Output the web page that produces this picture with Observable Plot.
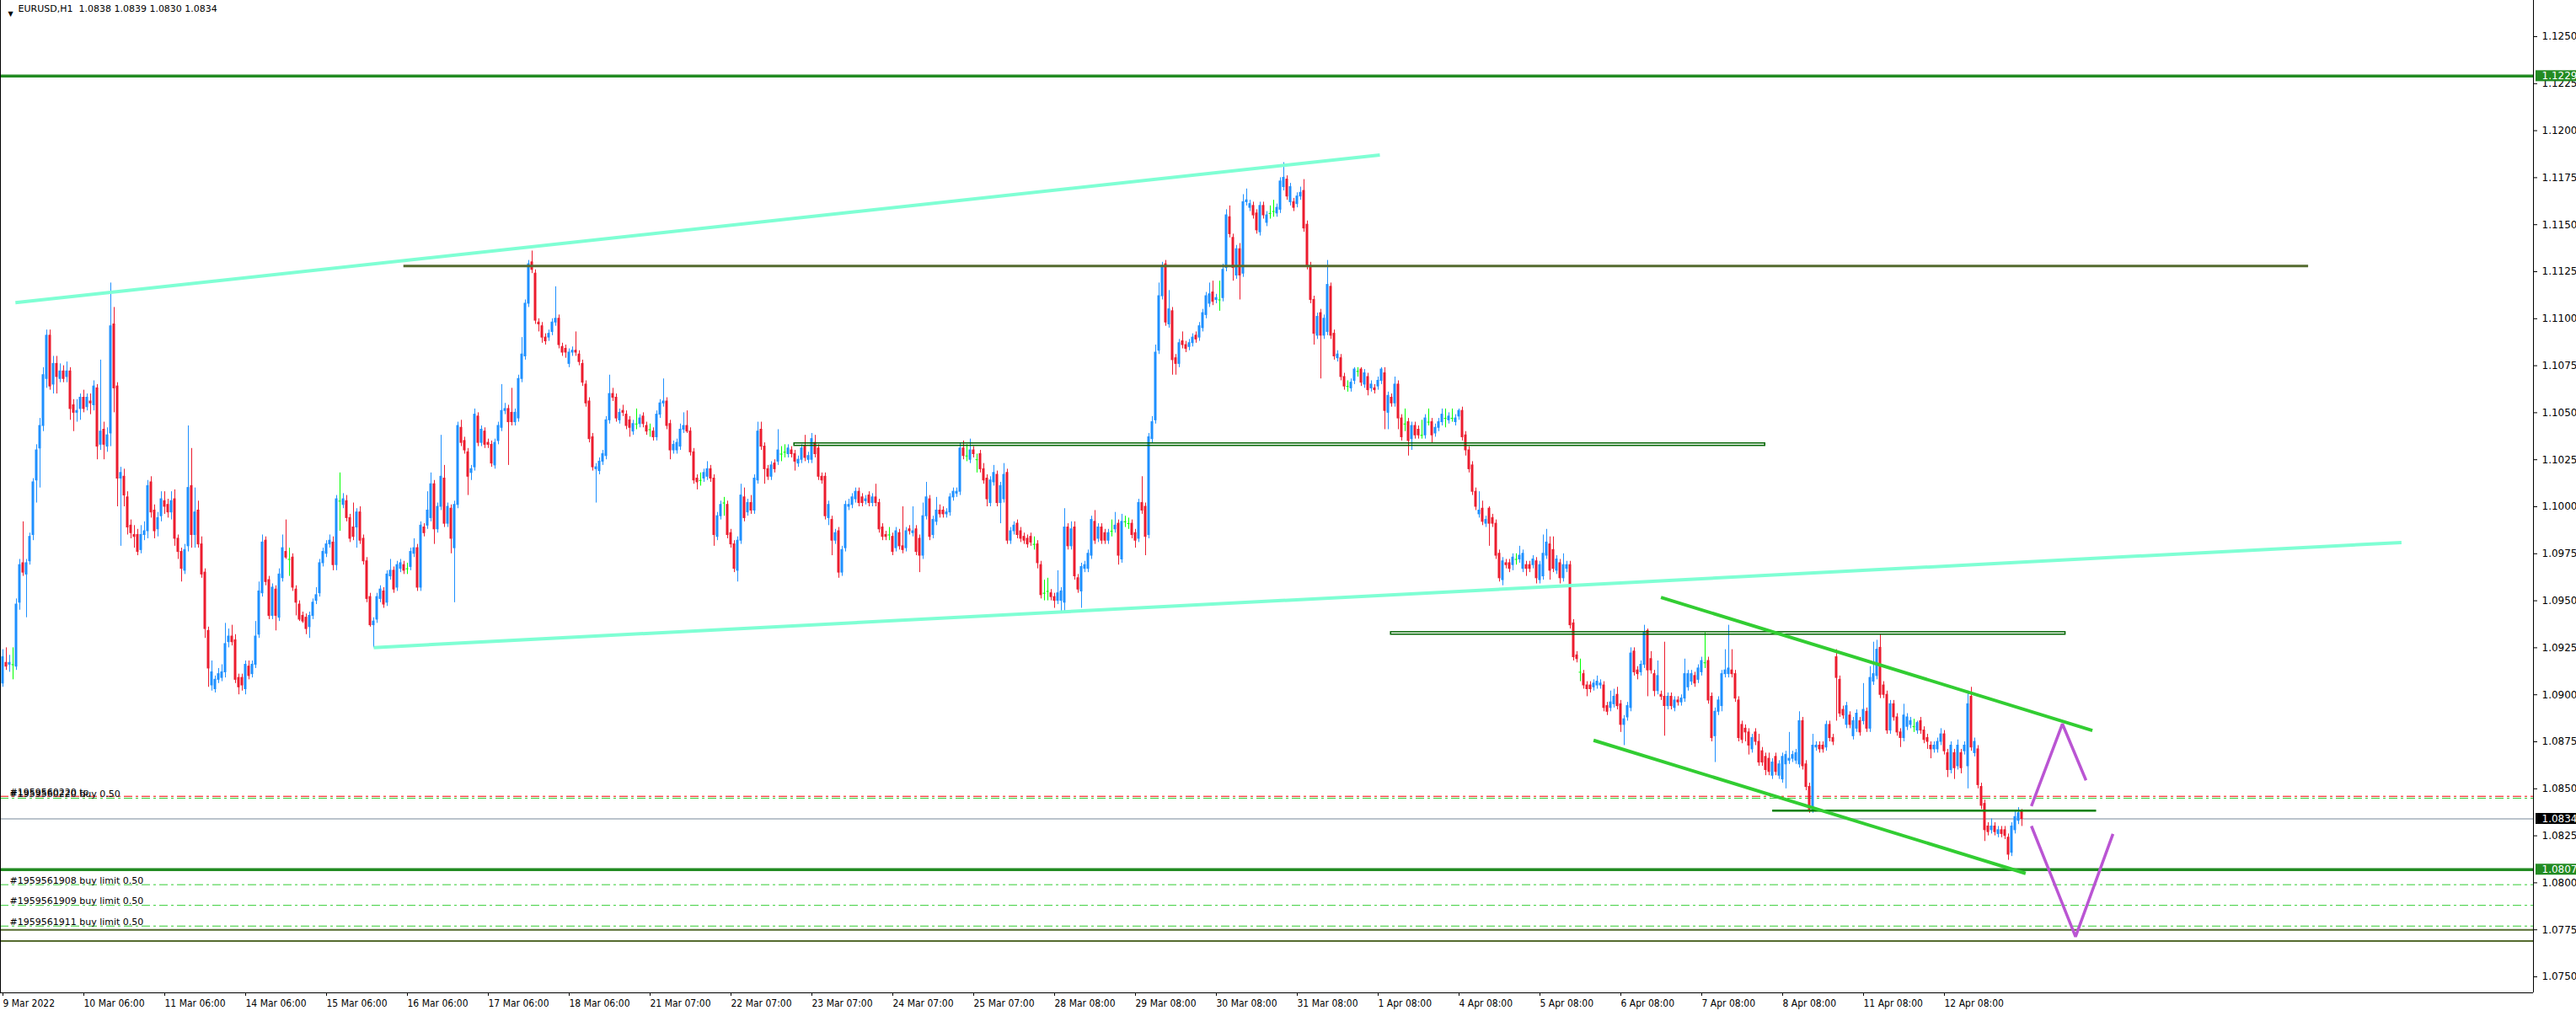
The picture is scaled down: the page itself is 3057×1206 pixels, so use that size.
<!DOCTYPE html>
<html>
<head>
<meta charset="utf-8">
<script src="https://cdn.jsdelivr.net/npm/d3@7"></script>
<script src="https://cdn.jsdelivr.net/npm/@observablehq/plot@0.6"></script>
<style>
html, body { margin: 0; padding: 0; background: #ffffff; }
#chart svg { display: block; }
[aria-label="x-axis tick label"] { font-family: "DejaVu Sans Condensed", "DejaVu Sans", sans-serif; font-stretch: condensed; }
</style>
</head>
<body>
<div id="chart"></div>
<script>
// ---------- DATA (prices as pips above 1.0000, i.e. price = 1 + v/10000) ----------
const symbolHeader = "EURUSD,H1  1.0838 1.0839 1.0830 1.0834";

const opens = [
906,917,916,916,915,949,970,964,971,985,1014,1031,1043,1068,1091,1065,1076,1068,1072,1069,
1072,1054,1050,1052,1058,1053,1056,1054,1063,1033,1041,1032,1039,1097,1064,1015,1016,1005,990,985,
985,977,985,987,1013,998,988,995,1003,1001,997,1004,983,976,966,979,1011,985,998,980,
965,934,905,903,908,909,912,928,931,929,909,909,903,915,911,916,932,954,982,961,
942,956,941,962,976,972,973,956,948,942,941,936,942,950,954,970,975,980,981,969,
1003,1001,1003,994,989,989,997,983,971,952,937,940,951,955,949,963,966,957,967,969,
967,968,975,978,957,989,990,994,1012,988,1000,1015,991,999,978,1001,1042,1035,1029,1018,
1021,1048,1034,1040,1034,1033,1022,1035,1042,1051,1052,1050,1045,1047,1068,1080,1108,1130,1124,1098,
1096,1090,1090,1093,1098,1100,1085,1084,1076,1082,1083,1081,1076,1065,1056,1037,1020,1019,1024,1027,
1046,1060,1058,1046,1051,1049,1046,1040,1044,1044,1048,1043,1041,1040,1037,1049,1055,1056,1044,1030,
1030,1032,1041,1043,1040,1029,1015,1014,1015,1016,1020,1015,984,995,1002,1001,986,980,966,982,
1005,997,1002,998,1014,1041,1032,1020,1016,1023,1024,1028,1029,1028,1030,1028,1023,1025,1032,1025,
1025,1034,1031,1016,1016,994,993,982,987,965,978,1000,1001,1004,1008,1005,1003,1006,1002,1005,
1002,989,985,985,984,978,986,979,978,988,986,988,983,974,995,1004,985,992,998,998,
996,997,1005,1007,1008,1031,1027,1025,1030,1025,1028,1020,1015,1002,1013,1017,1002,1004,1018,982,
987,991,987,984,983,984,980,980,969,954,955,954,952,950,950,949,989,979,989,962,
955,967,967,974,992,983,989,986,982,987,988,991,972,992,991,991,986,983,1002,1000,
985,1036,1046,1083,1112,1129,1097,1104,1079,1076,1088,1086,1085,1087,1091,1090,1095,1102,1108,1114,
1110,1110,1111,1127,1154,1143,1123,1137,1124,1162,1159,1160,1156,1146,1160,1151,1156,1157,1156,1158,
1170,1174,1162,1162,1161,1165,1168,1150,1128,1110,1091,1103,1091,1093,1117,1092,1079,1079,1069,1064,
1063,1067,1072,1073,1065,1069,1063,1063,1064,1067,1071,1050,1058,1055,1065,1047,1044,1045,1036,1043,
1041,1038,1038,1045,1045,1039,1042,1045,1047,1046,1047,1045,1048,1051,1038,1030,1022,1008,996,999,
991,999,994,991,975,961,970,970,969,972,972,967,969,969,969,971,961,963,974,980,
977,966,970,962,967,969,938,921,912,911,905,905,904,905,905,905,894,893,895,900,
895,884,888,893,923,913,912,916,934,919,911,902,900,899,894,899,893,897,896,898,
904,907,910,908,912,917,918,899,878,891,894,911,911,913,911,897,884,882,880,871,
880,875,870,867,866,857,867,857,855,863,865,866,865,863,886,863,851,839,872,873,
873,872,884,877,920,908,892,884,889,878,882,886,886,891,882,907,910,925,905,900,
881,895,888,880,877,883,884,883,881,886,881,877,873,871,871,875,879,869,860,869,
862,869,870,862,899,869,871,851,842,830,828,830,826,828,828,824,816,828,833,838
];
const highs = [
924,925,921,925,951,972,992,972,986,1015,1033,1047,1074,1094,1094,1080,1080,1076,1075,1077,
1074,1057,1057,1060,1062,1060,1060,1067,1065,1078,1045,1042,1119,1106,1066,1021,1020,1008,993,990,
988,990,992,1014,1016,1001,997,1008,1008,1004,1008,1009,985,978,980,1043,1031,1010,1003,984,
967,936,918,910,914,916,938,935,937,932,911,911,918,918,918,939,960,985,984,963,
959,958,967,985,993,978,975,958,950,944,943,944,951,957,972,978,982,985,984,1006,
1018,1007,1006,996,1002,999,1000,985,973,954,941,954,958,957,966,972,968,971,972,971,
970,978,983,980,992,991,1008,1018,1014,1002,1038,1022,1002,1001,1003,1045,1046,1037,1031,1022,
1052,1050,1043,1042,1036,1035,1036,1045,1065,1055,1054,1063,1052,1070,1090,1110,1131,1136,1126,1100,
1098,1092,1094,1100,1117,1102,1087,1086,1084,1085,1093,1083,1078,1067,1058,1039,1023,1026,1030,1048,
1070,1063,1060,1052,1054,1051,1048,1046,1052,1049,1050,1045,1044,1042,1051,1057,1068,1058,1046,1035,
1036,1044,1050,1051,1042,1031,1017,1018,1020,1024,1022,1017,997,1003,1005,1003,988,982,984,1012,
1010,1004,1006,1017,1045,1045,1034,1022,1024,1025,1041,1032,1033,1033,1032,1030,1027,1033,1038,1029,
1039,1038,1033,1018,1018,1003,995,988,989,979,1003,1004,1007,1010,1010,1007,1006,1008,1007,1012,
1004,991,987,989,986,989,988,1000,989,990,1000,990,985,1002,1013,1006,995,1005,1001,1000,
999,1007,1010,1010,1034,1035,1033,1036,1032,1028,1030,1023,1017,1016,1022,1019,1013,1023,1020,989,
992,993,989,986,985,986,984,982,971,961,962,956,954,966,957,999,991,992,992,964,
970,971,977,995,998,991,991,988,988,993,997,993,996,995,994,993,988,1004,1016,1002,
1039,1048,1086,1119,1130,1131,1115,1106,1081,1089,1093,1088,1089,1092,1093,1098,1105,1114,1119,1120,
1113,1120,1129,1158,1160,1145,1139,1140,1166,1169,1163,1162,1158,1162,1162,1157,1160,1163,1161,1175,
1183,1176,1172,1164,1167,1170,1174,1152,1130,1112,1103,1105,1102,1131,1119,1094,1083,1081,1071,1067,
1068,1074,1074,1074,1073,1071,1067,1065,1069,1074,1074,1061,1060,1069,1067,1049,1052,1047,1045,1045,
1043,1046,1049,1052,1047,1044,1047,1052,1052,1050,1052,1049,1052,1053,1040,1032,1024,1010,1008,1003,
995,1000,996,993,977,973,972,972,975,975,979,977,971,971,974,973,971,985,988,984,
984,974,972,975,971,971,940,923,919,913,907,907,908,910,908,907,896,902,903,904,
897,889,896,925,925,915,918,937,935,923,913,918,902,928,901,901,899,899,900,919,
913,913,912,916,920,933,920,901,893,899,913,924,937,924,913,899,886,884,882,879,
882,879,872,869,869,866,869,865,869,870,880,870,871,891,888,865,853,879,875,875,
875,886,886,879,924,910,894,896,891,888,892,888,906,893,915,928,929,932,907,902,
897,897,890,882,895,890,888,887,886,888,883,879,875,875,877,882,881,871,875,871,
876,871,875,902,904,877,873,853,844,832,834,832,830,830,830,826,832,838,840,839
];
const lows = [
904,913,912,908,913,945,963,941,969,982,1002,1010,1040,1063,1062,1060,1060,1066,1066,1066,
1046,1040,1045,1046,1050,1051,1049,1051,1025,1030,1025,1029,1032,1050,1000,979,1000,985,983,978,
974,975,982,983,994,983,984,992,996,994,993,979,972,960,964,976,978,978,978,962,
930,904,902,901,906,907,909,925,926,906,900,902,900,908,909,914,930,952,958,940,
940,934,939,960,972,963,955,942,939,938,932,930,940,948,952,968,973,978,966,966,
987,999,992,981,982,978,980,969,949,936,925,938,949,946,947,961,954,955,965,964,
964,966,973,955,955,984,988,992,980,986,998,989,989,975,949,999,1032,1028,1006,1014,
1019,1032,1032,1031,1031,1021,1020,1033,1040,1049,1022,1043,1043,1045,1066,1078,1106,1124,1097,1093,
1087,1086,1088,1091,1096,1084,1080,1079,1074,1080,1080,1075,1064,1053,1034,1019,1002,1017,1022,1025,
1044,1056,1045,1044,1048,1041,1037,1038,1041,1042,1042,1038,1037,1035,1035,1047,1053,1041,1025,1028,
1028,1030,1039,1039,1027,1012,1009,1011,1013,1014,1013,979,982,993,995,983,978,965,960,980,
992,995,996,996,1012,1030,1012,1014,1014,1018,1022,1024,1026,1026,1026,1019,1021,1023,1024,1023,
1023,1026,1014,1012,993,990,974,980,962,963,976,998,999,1002,1000,1000,1001,1000,1000,1000,
986,982,982,982,974,976,977,975,976,985,984,974,965,972,993,982,983,990,994,994,
994,995,1003,1005,1006,1025,1024,1023,1026,1018,1018,1012,1000,1000,1011,1000,991,1002,980,980,
985,983,981,980,978,979,977,967,951,950,950,950,946,948,944,944,977,977,961,954,
946,965,965,972,980,981,980,980,980,984,986,969,970,989,988,983,978,981,996,974,
983,1034,1044,1081,1110,1096,1095,1070,1070,1074,1084,1082,1083,1085,1087,1088,1093,1100,1106,1107,
1108,1104,1109,1125,1143,1120,1121,1110,1122,1160,1157,1153,1145,1144,1153,1149,1153,1154,1154,1156,
1168,1163,1160,1157,1159,1163,1146,1126,1108,1086,1089,1068,1089,1091,1089,1078,1077,1067,1062,1061,
1061,1065,1069,1064,1063,1059,1061,1060,1062,1065,1041,1041,1053,1053,1041,1035,1040,1027,1030,1036,
1036,1036,1036,1043,1034,1037,1040,1043,1042,1044,1045,1043,1046,1035,1027,1018,1006,998,994,990,
989,979,989,972,960,958,967,965,966,969,970,965,963,965,967,959,959,961,972,961,
965,964,959,960,965,935,918,917,907,903,899,901,902,903,903,891,889,891,893,892,
880,873,886,891,910,908,910,914,899,911,899,900,897,878,892,892,891,894,894,896,
902,905,904,906,910,914,895,875,864,889,891,909,909,909,896,875,874,875,868,869,
873,862,862,857,857,855,857,855,853,850,863,864,863,861,860,849,837,837,870,869,
869,870,875,873,886,888,887,882,882,876,880,878,884,880,880,905,908,898,898,879,
879,886,878,872,875,881,882,880,879,879,874,871,866,869,869,873,868,856,858,855,
860,858,868,850,870,867,850,839,822,825,826,825,824,824,823,812,814,826,831,830
];
const closes = [
920,915,917,916,948,969,965,970,984,1013,1030,1043,1070,1091,1064,1076,1069,1072,1068,1072,
1052,1050,1051,1058,1052,1058,1055,1064,1032,1040,1033,1038,1096,1063,1015,1018,1006,989,986,984,
976,985,987,1011,997,987,994,1004,1000,997,1003,983,976,967,977,1010,985,997,980,964,
935,914,912,908,911,912,927,931,928,908,904,905,916,910,916,931,955,981,960,942,
957,942,964,978,973,972,957,949,940,939,935,942,949,953,970,976,980,982,969,1004,
1003,1004,994,983,984,997,982,971,951,937,939,952,956,948,964,966,956,969,970,966,
967,976,978,957,990,986,998,1012,988,1000,1016,991,1000,983,1001,1043,1034,1030,1016,1020,
1049,1034,1041,1033,1033,1023,1034,1043,1051,1052,1045,1045,1050,1068,1081,1108,1129,1126,1099,1097,
1090,1088,1092,1098,1100,1086,1082,1082,1082,1083,1082,1077,1066,1055,1036,1021,1021,1024,1028,1046,
1060,1058,1047,1050,1050,1043,1042,1044,1044,1047,1044,1040,1041,1037,1049,1055,1056,1043,1030,1033,
1034,1041,1043,1040,1029,1014,1013,1014,1018,1020,1015,985,995,1001,1002,985,980,967,982,1006,
994,1002,998,1015,1040,1032,1020,1016,1022,1020,1030,1028,1029,1031,1028,1024,1025,1031,1026,1027,
1036,1028,1016,1014,995,1001,982,986,965,977,1001,1001,1005,1008,1002,1002,1004,1002,1005,1002,
988,984,984,985,976,987,979,977,987,987,987,976,974,995,1005,984,993,998,996,996,
997,1005,1008,1008,1031,1027,1027,1030,1028,1025,1020,1014,1004,1014,1018,1002,1011,1017,982,987,
990,985,983,982,980,981,980,970,953,954,955,952,950,954,955,989,979,988,963,956,
968,969,975,993,982,989,982,982,986,987,990,974,992,992,991,985,982,1002,998,984,
1037,1045,1082,1112,1128,1098,1105,1078,1076,1087,1086,1084,1087,1090,1089,1096,1103,1112,1113,1109,
1111,1110,1126,1155,1145,1127,1137,1123,1162,1163,1161,1155,1147,1160,1155,1155,1156,1157,1159,1173,
1175,1165,1170,1159,1165,1167,1148,1128,1110,1092,1101,1091,1100,1118,1091,1080,1081,1069,1064,1064,
1066,1073,1072,1066,1071,1062,1065,1062,1067,1073,1051,1059,1055,1065,1047,1037,1044,1035,1043,1038,
1038,1038,1047,1045,1038,1042,1045,1049,1047,1048,1047,1047,1051,1037,1030,1020,1008,1000,998,992,
993,991,991,974,962,971,969,967,973,972,974,975,967,967,972,962,969,975,981,966,
967,972,962,969,969,937,920,919,912,905,903,903,906,907,906,893,891,896,899,894,
884,887,894,922,912,911,916,933,913,913,902,910,899,894,899,894,897,896,898,911,
911,911,906,914,918,917,897,877,891,897,911,913,914,911,898,877,876,880,873,877,
875,864,864,860,859,864,859,863,867,868,866,868,869,886,862,851,839,873,873,871,
871,884,877,875,909,890,889,894,884,886,890,880,892,882,909,911,924,900,900,881,
895,888,880,877,889,888,886,883,885,881,876,875,871,873,875,879,870,860,873,861,
873,861,873,895,872,875,852,841,828,827,830,827,828,826,825,815,830,835,837,834
];

const dayLabels = ["9 Mar 2022","10 Mar 06:00","11 Mar 06:00","14 Mar 06:00","15 Mar 06:00","16 Mar 06:00",
  "17 Mar 06:00","18 Mar 06:00","21 Mar 07:00","22 Mar 07:00","23 Mar 07:00","24 Mar 07:00","25 Mar 07:00",
  "28 Mar 08:00","29 Mar 08:00","30 Mar 08:00","31 Mar 08:00","1 Apr 08:00","4 Apr 08:00","5 Apr 08:00",
  "6 Apr 08:00","7 Apr 08:00","8 Apr 08:00","11 Apr 08:00","12 Apr 08:00"];
const tickBars = [0,24,48,72,96,120,144,168,192,216,240,264,288,312,336,360,384,408,432,456,480,504,528,552,576];
const priceTicks = [1.0750,1.0775,1.0800,1.0825,1.0850,1.0875,1.0900,1.0925,1.0950,1.0975,1.1000,
  1.1025,1.1050,1.1075,1.1100,1.1125,1.1150,1.1175,1.1200,1.1225,1.1250];

// horizontal levels
const keyLevels = [1.1229, 1.0807];
const oliveLevels = [1.0775, 1.0769];
const bidPrice = [1.0834];
const entryLevels = [1.0845, 1.0799, 1.0788, 1.0777];
const tpLevels = [1.0846];
const orderTexts = ["#1959560220 tp", "#1959560220 buy 0.50", "#1959561908 buy limit 0.50",
  "#1959561909 buy limit 0.50", "#1959561911 buy limit 0.50"];
const orderPrices = [1.0846, 1.0845, 1.0799, 1.0788, 1.0777];

// drawn objects: [bar index, price]
const aquaUpper = [[3.7, 1.11085], [408.5, 1.11871]];
const aquaLower = [[110, 1.09251], [711.6, 1.0981]];
const resistanceLine = [[118.8, 1.1128], [683.9, 1.1128]];
const zoneRects = [[234.8, 522.8, 1.10324, 1.10337], [411.8, 611.9, 1.09320, 1.09333]];
const channelUpper = [[491.9, 1.09518], [619.9, 1.0881]];
const channelLower = [[471.9, 1.08758], [600.1, 1.0805]];
const supportShort = [[524.9, 1.08384], [621, 1.08384]];
const zigUp = [[601.8, 1.08408], [611, 1.08845], [618, 1.08545]];
const zigDown = [[601.8, 1.08302], [614.9, 1.07713], [626, 1.0826]];

// ---------- SCALE CALIBRATION ----------
const W = 3057, H = 1206;
const mL = 0, mR = 51, mT = 0, mB = 28;
const pxPerBar = 4, firstBarPx = 3;
const pxPerPrice = 22320, refPrice = 1.1250, refPx = 43;
const xDomain = [(mL - firstBarPx) / pxPerBar, (W - mR - firstBarPx) / pxPerBar];
const yDomain = [refPrice - (H - mB - refPx) / pxPerPrice, refPrice + (refPx - mT) / pxPerPrice];

const P = v => 1 + v / 10000;
const bars = closes.map((c, i) => {
  const o = opens[i];
  return {
    i, o: P(o), c: P(c),
    h: P(Math.max(highs[i], o, c)), l: P(Math.min(lows[i], o, c)),
    dir: c > o ? "up" : c < o ? "down" : "flat"
  };
});
const candleColor = {up: "#1E90FF", down: "#EC1C2E", flat: "#00FF00"};
const bodies = bars.filter(d => d.dir !== "flat");
const dojis = bars.filter(d => d.dir === "flat");
const orderLabelData = orderTexts.map((t, k) => ({text: t, price: orderPrices[k]}));
const tagHalf = 6.5 / pxPerPrice;
const tagX1 = xDomain[1] + 3 / pxPerBar, tagX2 = xDomain[1] + 60 / pxPerBar;

const chart = Plot.plot({
  width: W, height: H,
  marginLeft: mL, marginRight: mR, marginTop: mT, marginBottom: mB,
  x: {type: "linear", domain: xDomain, label: null},
  y: {type: "linear", domain: yDomain, label: null},
  style: {fontFamily: "DejaVu Sans", fontSize: "12px", background: "#ffffff", color: "#000000", overflow: "visible"},
  marks: [
    // full-width levels
    Plot.ruleY(entryLevels, {stroke: "#32CD32", strokeWidth: 1, strokeDasharray: "10,4,3,4"}),
    Plot.ruleY(tpLevels, {stroke: "#FF0000", strokeWidth: 1, strokeDasharray: "10,4,3,4"}),
    Plot.ruleY(bidPrice, {stroke: "#778899", strokeWidth: 1}),
    Plot.ruleY(oliveLevels, {stroke: "#556B2F", strokeWidth: 2}),
    // candles
    Plot.ruleX(bars, {x: "i", y1: "l", y2: "h", stroke: d => candleColor[d.dir], strokeWidth: 1}),
    Plot.rect(bodies, {x1: d => d.i - 0.25, x2: d => d.i + 0.25, y1: "o", y2: "c",
      fill: d => candleColor[d.dir], stroke: d => candleColor[d.dir], strokeWidth: 1}),
    Plot.ruleY(dojis, {y: "c", x1: d => d.i - 0.375, x2: d => d.i + 0.375, stroke: candleColor.flat, strokeWidth: 1}),
    // objects
    Plot.ruleY(keyLevels, {stroke: "#228B22", strokeWidth: 3.5}),
    Plot.line(aquaUpper, {x: d => d[0], y: d => d[1], stroke: "#7FFFD4", strokeWidth: 4, strokeLinecap: "butt"}),
    Plot.line(aquaLower, {x: d => d[0], y: d => d[1], stroke: "#7FFFD4", strokeWidth: 4, strokeLinecap: "butt"}),
    Plot.line(resistanceLine, {x: d => d[0], y: d => d[1], stroke: "#556B2F", strokeWidth: 3, strokeLinecap: "butt"}),
    Plot.rect(zoneRects, {x1: d => d[0], x2: d => d[1], y1: d => d[2], y2: d => d[3], fill: "none", stroke: "#006400", strokeWidth: 1.5}),
    Plot.line(supportShort, {x: d => d[0], y: d => d[1], stroke: "#008000", strokeWidth: 2.5, strokeLinecap: "butt"}),
    Plot.line(channelUpper, {x: d => d[0], y: d => d[1], stroke: "#32CD32", strokeWidth: 4, strokeLinecap: "butt"}),
    Plot.line(channelLower, {x: d => d[0], y: d => d[1], stroke: "#32CD32", strokeWidth: 4, strokeLinecap: "butt"}),
    Plot.line(zigUp, {x: d => d[0], y: d => d[1], stroke: "#BA55D3", strokeWidth: 3.5, strokeLinejoin: "miter", strokeLinecap: "butt"}),
    Plot.line(zigDown, {x: d => d[0], y: d => d[1], stroke: "#BA55D3", strokeWidth: 3.5, strokeLinejoin: "miter", strokeLinecap: "butt"}),
    // order labels
    Plot.text(orderLabelData, {y: "price", text: "text", frameAnchor: "left", dx: 11, dy: -1.5,
      lineAnchor: "bottom", textAnchor: "start", fontSize: 11, fill: "#000000"}),
    // header
    Plot.text(["\u25BC"], {frameAnchor: "top-left", dx: 9, dy: 12.5, fontSize: 8, fill: "#000000"}),
    Plot.text([symbolHeader], {frameAnchor: "top-left", dx: 21, dy: 6, lineAnchor: "top", textAnchor: "start", fontSize: 11, fill: "#000000"}),
    // frame
    Plot.ruleX([xDomain[0], xDomain[1]], {stroke: "#000000", strokeWidth: 1}),
    Plot.ruleY([yDomain[0]], {stroke: "#000000", strokeWidth: 1}),
    // axes
    Plot.axisY({anchor: "right", label: null, ticks: priceTicks, tickFormat: d => d.toFixed(4), tickSize: 4, tickPadding: 6,
      fontSize: 12, fill: "#000000", stroke: "#000000"}),
    Plot.axisX({anchor: "bottom", label: null, ticks: tickBars, tickFormat: d => dayLabels[tickBars.indexOf(d)],
      tickSize: 4, tickPadding: 4, textAnchor: "start", fontSize: 12, fill: "#000000", stroke: "#000000"}),
    // price tags
    Plot.rect(keyLevels, {x1: () => tagX1, x2: () => tagX2, y1: d => d - tagHalf, y2: d => d + tagHalf, fill: "#228B22"}),
    Plot.rect(bidPrice, {x1: () => tagX1, x2: () => tagX2, y1: d => d - tagHalf, y2: d => d + tagHalf, fill: "#000000"}),
    Plot.text(keyLevels.concat(bidPrice), {x: () => xDomain[1], y: d => d, text: d => d.toFixed(4), dx: 10,
      textAnchor: "start", fontSize: 12, fill: "#ffffff"})
  ]
});
document.getElementById("chart").appendChild(chart);
</script>
</body>
</html>
